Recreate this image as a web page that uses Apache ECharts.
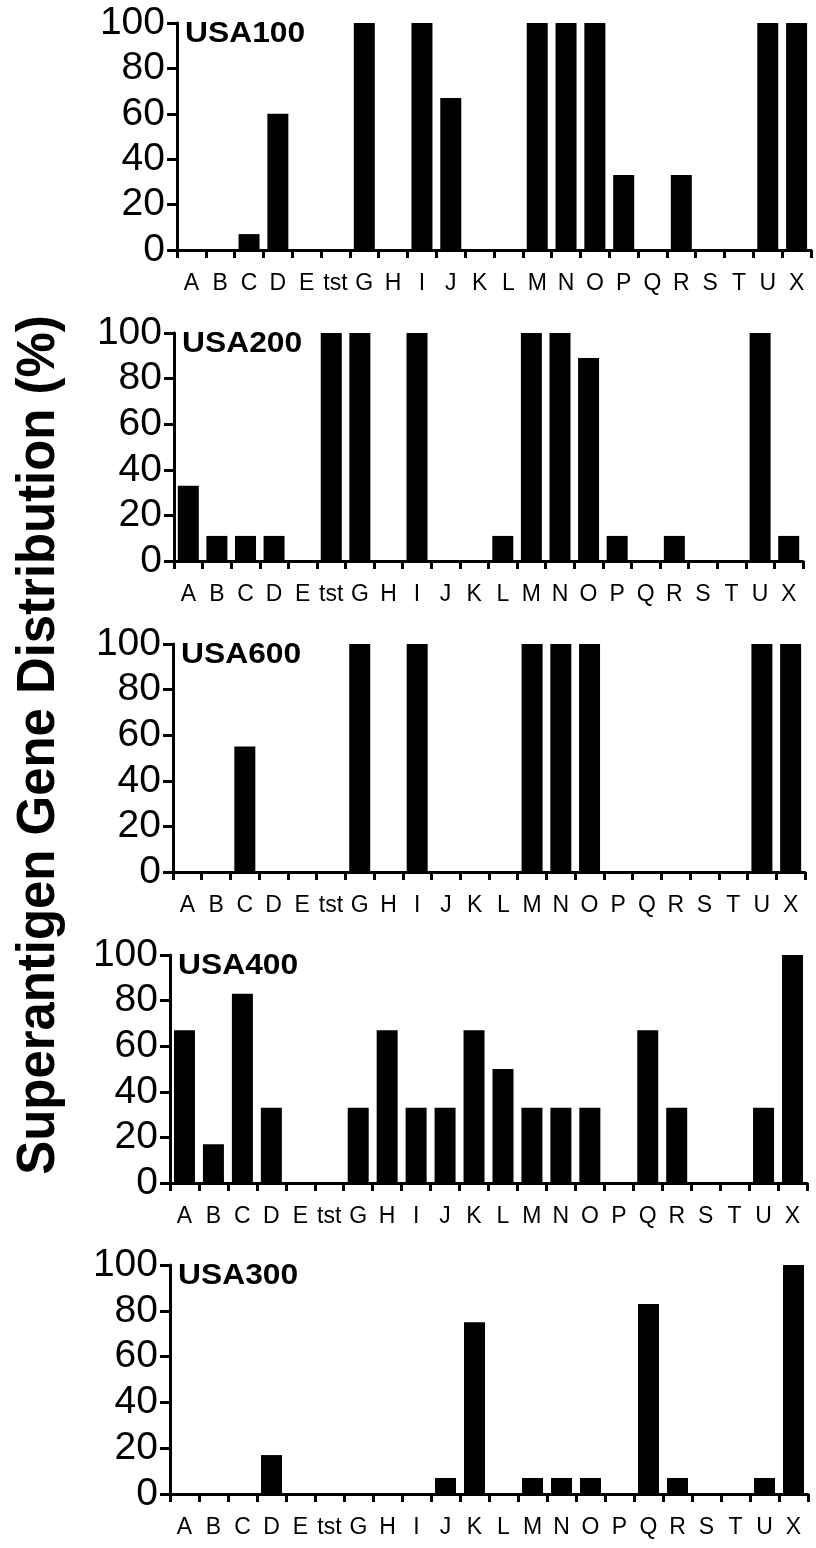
<!DOCTYPE html>
<html>
<head>
<meta charset="utf-8">
<script src="https://cdn.jsdelivr.net/npm/echarts@6/dist/echarts.min.js"></script>
<style>
html,body{margin:0;padding:0;background:#fff;}
#chart{width:816px;height:1548px;}
</style>
</head>
<body>
<div id="chart"></div>
<script>
const categories = ['A','B','C','D','E','tst','G','H','I','J','K','L','M','N','O','P','Q','R','S','T','U','X'];
const usa100 = [0,0,7,60,0,0,100,0,100,67,0,0,100,100,100,33,0,33,0,0,100,100];
const usa200 = [33,11,11,11,0,100,100,0,100,0,0,11,100,100,89,11,0,11,0,0,100,11];
const usa600 = [0,0,55,0,0,0,100,0,100,0,0,0,100,100,100,0,0,0,0,0,100,100];
const usa400 = [67,17,83,33,0,0,33,67,33,33,67,50,33,33,33,0,67,33,0,0,33,100];
const usa300 = [0,0,0,17,0,0,0,0,0,7,75,0,7,7,7,0,83,7,0,0,7,100];
const panelNames = ['USA100','USA200','USA600','USA400','USA300'];
const panelValues = [usa100, usa200, usa600, usa400, usa300];
const yMin = 0, yMax = 100, yInterval = 20;
const yTitle = 'Superantigen Gene Distribution (%)';

// layout (pixels)
const grids = [
  {left:177, top:23,   width:634, height:227},
  {left:174, top:333,  width:629, height:228},
  {left:173, top:644,  width:632, height:228},
  {left:170, top:955,  width:637, height:228},
  {left:170, top:1265, width:638, height:229}
];
const FONT = '"Liberation Sans", Arial, sans-serif';

const chart = echarts.init(document.getElementById('chart'), null, {renderer:'canvas'});
const option = {
  backgroundColor:'#fff',
  animation:false,
  grid: grids.map(g => Object.assign({}, g)),
  xAxis: grids.map((g,i) => ({
    type:'category', gridIndex:i, data:categories, boundaryGap:true,
    axisLine:{show:true, lineStyle:{color:'#000', width:3}},
    axisTick:{show:true, interval:0, length:8, inside:false, lineStyle:{color:'#000', width:3}},
    axisLabel:{interval:0, margin:22, color:'#000', fontSize:23, fontFamily:FONT},
    splitLine:{show:false}
  })),
  yAxis: grids.map((g,i) => ({
    type:'value', gridIndex:i, min:yMin, max:yMax, interval:yInterval,
    axisLine:{show:true, lineStyle:{color:'#000', width:3}},
    axisTick:{show:true, length:10, lineStyle:{color:'#000', width:3}},
    axisLabel:{margin:12, color:'#000', fontSize:39, fontFamily:FONT},
    splitLine:{show:false}
  })),
  series: panelValues.map((vals,i) => ({
    type:'bar', name:panelNames[i], xAxisIndex:i, yAxisIndex:i,
    data:vals, barWidth:21, itemStyle:{color:'#000'}
  })),
  graphic: [
    ...grids.map((g,i) => ({
      type:'text', x:g.left+8, y:g.top-4, scaleX:1.06,
      style:{text:panelNames[i], fill:'#000', font:'bold 30px ' + FONT, align:'left', verticalAlign:'top'}
    })),
    {
      type:'text', x:39, y:745, rotation:Math.PI/2, scaleX:0.96,
      style:{text:yTitle, fill:'#000', font:'bold 53px ' + FONT, align:'center', verticalAlign:'middle'}
    }
  ]
};
chart.setOption(option);
</script>
</body>
</html>
